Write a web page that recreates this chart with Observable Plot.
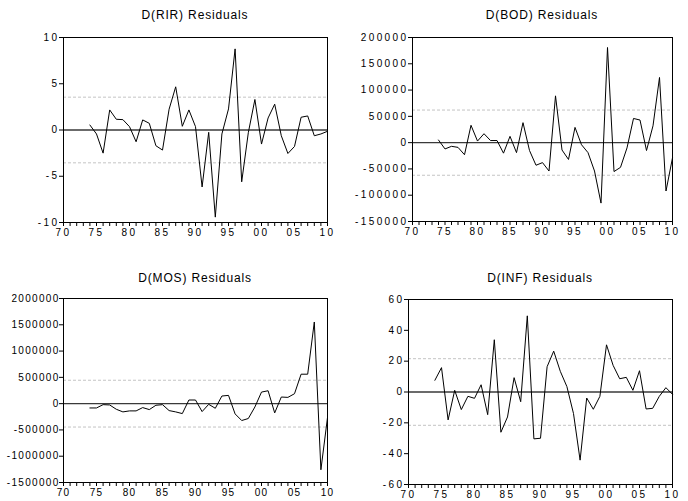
<!DOCTYPE html>
<html>
<head>
<meta charset="utf-8">
<script src="https://cdn.jsdelivr.net/npm/d3@7"></script>
<script src="https://cdn.jsdelivr.net/npm/@observablehq/plot@0.6"></script>
<style>
  html, body { margin: 0; padding: 0; background: white; overflow: hidden; }
  #chart { position: relative; width: 688px; height: 501px; background: white; overflow: hidden; }
  .panel { position: absolute; }
  .panel svg text { letter-spacing: 2.4px; }
  .panel.tight svg text { letter-spacing: 1.3px; }
  .panel svg text.ptitle { letter-spacing: 0.85px; }
</style>
</head>
<body>
<div id="chart"></div>
<script>
// Years of the residual series
const years = [1974,1975,1976,1977,1978,1979,1980,1981,1982,1983,1984,1985,1986,1987,1988,1989,1990,
  1991,1992,1993,1994,1995,1996,1997,1998,1999,2000,2001,2002,2003,2004,2005,2006,2007,2008,2009,2010];

// Residual series
const rir = [0.54,-0.43,-2.5,2.17,1.16,1.12,0.36,-1.27,1.09,0.72,-1.7,-2.17,2.25,4.67,0.4,2.17,0.36,
  -6.16,-0.25,-9.42,-0.43,2.28,8.77,-5.6,-0.3,3.3,-1.52,1.3,2.79,-0.62,-2.54,-1.78,1.38,1.52,-0.62,-0.43,-0.14];
const bod = [5000,-12000,-7000,-9000,-23000,33000,3000,17000,4000,4000,-20000,12000,-19000,38000,-15000,-43000,-38000,
  -54000,89000,-14000,-32000,29000,-4000,-19000,-54000,-115000,181000,-55000,-47000,-10000,46000,43000,-15000,32000,124000,-92000,-29000];
const mos = [-82000,-82000,-19000,-25000,-107000,-157000,-138000,-138000,-75000,-113000,-31000,-19000,-132000,-157000,-189000,69000,69000,
  -151000,-13000,-88000,145000,157000,-195000,-321000,-283000,-63000,220000,245000,-176000,126000,119000,189000,560000,560000,1553000,-1258000,-264000];
const inf = [7.6,15.8,-18.1,1.1,-11.4,-2.8,-4.1,4.7,-14.7,33.9,-26.1,-16.2,9.3,-6.3,49.4,-30.4,-30,
  16.4,26.5,13.4,3.5,-14,-44.2,-3.9,-11.2,-2.8,30.6,17.3,8.6,9.5,1.1,13.8,-11,-10.6,-2.8,2.8,-1.5];

// +/- 2 S.E. bands
const rirBand = 3.55, bodBand = 62000, mosBand = 445000, infBand = 21.6;

// Titles
const titles = ["D(RIR) Residuals", "D(BOD) Residuals", "D(MOS) Residuals", "D(INF) Residuals"];

// Axis ticks
const xDomain = [1970, 2010];
const xTicks = [1970,1971,1972,1973,1974,1975,1976,1977,1978,1979,1980,1981,1982,1983,1984,1985,1986,1987,1988,1989,1990,
  1991,1992,1993,1994,1995,1996,1997,1998,1999,2000,2001,2002,2003,2004,2005,2006,2007,2008,2009,2010];
const rirTicks = [-10,-5,0,5,10];
const bodTicks = [-150000,-100000,-50000,0,50000,100000,150000,200000];
const mosTicks = [-1500000,-1000000,-500000,0,500000,1000000,1500000,2000000];
const infTicks = [-60,-40,-20,0,20,40,60];

const panels = [
  {title: titles[0], values: rir, band: rirBand, yDomain: [-10, 10], yTicks: rirTicks,
   left: 0, top: 0, width: 344, height: 250, mt: 37, mr: 17, mb: 28, ml: 63, titleY: 19, tight: false},
  {title: titles[1], values: bod, band: bodBand, yDomain: [-150000, 200000], yTicks: bodTicks,
   left: 344, top: 0, width: 344, height: 250, mt: 37, mr: 16, mb: 29, ml: 68, titleY: 19, tight: false},
  {title: titles[2], values: mos, band: mosBand, yDomain: [-1500000, 2000000], yTicks: mosTicks,
   left: 0, top: 250, width: 344, height: 251, mt: 48, mr: 17, mb: 19, ml: 63, titleY: 31.5, tight: true},
  {title: titles[3], values: inf, band: infBand, yDomain: [-60, 60], yTicks: infTicks,
   left: 344, top: 250, width: 344, height: 251, mt: 49, mr: 16, mb: 17, ml: 64, titleY: 31.5, tight: false}
];

const chart = document.getElementById("chart");

for (const p of panels) {
  const data = years.map((year, i) => ({year, value: p.values[i]}));
  const svg = Plot.plot({
    width: p.width,
    height: p.height,
    marginTop: p.mt,
    marginRight: p.mr,
    marginBottom: p.mb,
    marginLeft: p.ml,
    style: {fontFamily: "'Liberation Sans', Arial, sans-serif", fontSize: "10px", color: "black", background: "white", overflow: "visible"},
    x: {domain: xDomain, ticks: xTicks, tickSize: 4, tickPadding: 2, label: null,
        tickFormat: d => d % 5 === 0 ? String(d % 100).padStart(2, "0") : ""},
    y: {domain: p.yDomain, ticks: p.yTicks, tickSize: 4, tickPadding: 0, label: null,
        tickFormat: d => String(d)},
    marks: [
      Plot.ruleY([-p.band, p.band], {stroke: "#c4c4c4", strokeDasharray: "3,2"}),
      Plot.ruleY([0], {stroke: "#3a3a3a", strokeWidth: 1.4}),
      Plot.line(data, {x: "year", y: "value", stroke: "black", strokeWidth: 1}),
      Plot.frame({stroke: "black"})
    ]
  });
  const div = document.createElement("div");
  div.className = p.tight ? "panel tight" : "panel";
  div.style.left = p.left + "px";
  div.style.top = p.top + "px";
  div.style.width = p.width + "px";
  div.style.height = p.height + "px";
  div.appendChild(svg);
  chart.appendChild(div);
  d3.select(svg).append("text")
    .attr("class", "ptitle")
    .attr("x", p.ml + (p.width - p.ml - p.mr) / 2)
    .attr("y", p.titleY)
    .attr("text-anchor", "middle")
    .attr("fill", "black")
    .style("font-size", "12px")
    .text(p.title);
}
</script>
</body>
</html>
